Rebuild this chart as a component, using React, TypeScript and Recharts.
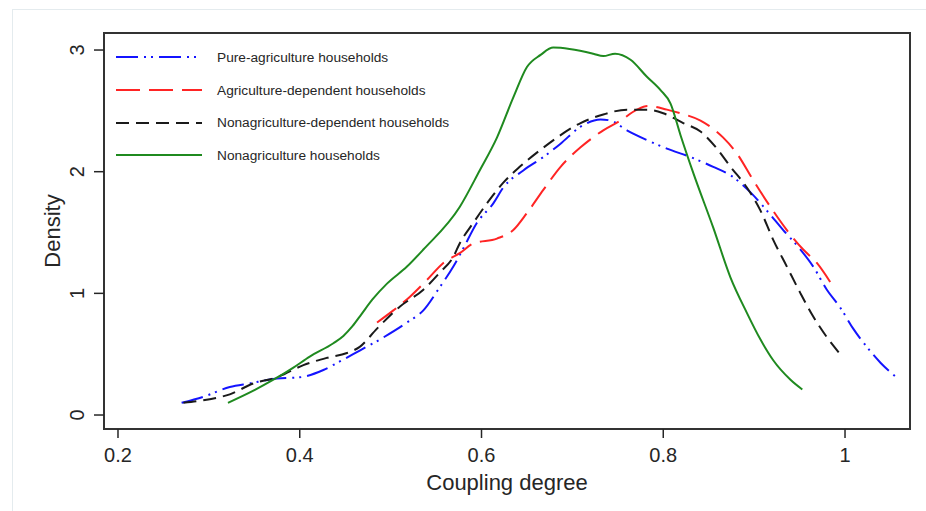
import React from 'react';
import { LineChart, Line, XAxis, YAxis, ReferenceArea } from 'recharts';

// kernel density curves
const pureX = [0.27, 0.294, 0.323, 0.345, 0.375, 0.4, 0.426, 0.444, 0.466, 0.488, 0.518, 0.536, 0.554, 0.569, 0.58, 0.595, 0.613, 0.624, 0.646, 0.668, 0.687, 0.709, 0.731, 0.742, 0.76, 0.782, 0.804, 0.83, 0.855, 0.874, 0.896, 0.914, 0.932, 0.951, 0.965, 0.98, 0.995, 1.009, 1.024, 1.039, 1.055];
const pureY = [0.1, 0.15, 0.23, 0.26, 0.3, 0.31, 0.37, 0.44, 0.53, 0.62, 0.76, 0.86, 1.05, 1.22, 1.37, 1.58, 1.74, 1.87, 2.01, 2.12, 2.23, 2.37, 2.43, 2.42, 2.34, 2.26, 2.19, 2.12, 2.04, 1.97, 1.83, 1.68, 1.52, 1.36, 1.22, 1.03, 0.88, 0.71, 0.56, 0.43, 0.32];

const agriDepX = [0.485, 0.503, 0.521, 0.54, 0.558, 0.576, 0.591, 0.617, 0.635, 0.65, 0.668, 0.687, 0.709, 0.734, 0.753, 0.771, 0.783, 0.804, 0.819, 0.841, 0.866, 0.881, 0.899, 0.918, 0.936, 0.954, 0.969, 0.984];
const agriDepY = [0.76, 0.86, 0.97, 1.11, 1.25, 1.33, 1.41, 1.45, 1.52, 1.66, 1.85, 2.04, 2.2, 2.34, 2.42, 2.51, 2.54, 2.51, 2.48, 2.42, 2.28, 2.15, 1.93, 1.71, 1.52, 1.36, 1.25, 1.09];

const nonAgriDepX = [0.272, 0.301, 0.323, 0.349, 0.375, 0.404, 0.43, 0.452, 0.466, 0.485, 0.51, 0.536, 0.554, 0.569, 0.576, 0.591, 0.609, 0.624, 0.642, 0.665, 0.683, 0.709, 0.734, 0.76, 0.782, 0.8, 0.822, 0.841, 0.859, 0.874, 0.892, 0.907, 0.921, 0.936, 0.951, 0.965, 0.98, 0.997];
const nonAgriDepY = [0.1, 0.13, 0.17, 0.26, 0.31, 0.41, 0.47, 0.51, 0.56, 0.71, 0.89, 1.03, 1.17, 1.3, 1.41, 1.58, 1.77, 1.91, 2.04, 2.18, 2.28, 2.4, 2.47, 2.51, 2.51, 2.48, 2.4, 2.33, 2.19, 2.04, 1.87, 1.68, 1.44, 1.22, 1.0, 0.81, 0.64, 0.48];

const nonAgriX = [0.321, 0.349, 0.371, 0.393, 0.411, 0.437, 0.448, 0.458, 0.468, 0.48, 0.496, 0.518, 0.536, 0.576, 0.598, 0.617, 0.635, 0.65, 0.665, 0.679, 0.723, 0.734, 0.747, 0.764, 0.782, 0.797, 0.808, 0.819, 0.833, 0.855, 0.874, 0.892, 0.907, 0.921, 0.94, 0.953];
const nonAgriY = [0.1, 0.2, 0.29, 0.39, 0.48, 0.59, 0.65, 0.73, 0.83, 0.95, 1.08, 1.22, 1.36, 1.71, 2.01, 2.28, 2.61, 2.86, 2.96, 3.02, 2.97, 2.95, 2.97, 2.92, 2.78, 2.67, 2.56, 2.3, 1.99, 1.54, 1.13, 0.84, 0.62, 0.45, 0.29, 0.21];

const xTicks = [0.2, 0.4, 0.6, 0.8, 1];
const yTicks = [0, 1, 2, 3];

const toPoints = (xs: number[], ys: number[]) => xs.map((x, i) => ({ x, y: ys[i] }));

const series = [
  { name: 'Pure-agriculture households', data: toPoints(pureX, pureY), color: '#1414ff', dash: '22 6 2 5 2 6' },
  { name: 'Agriculture-dependent households', data: toPoints(agriDepX, agriDepY), color: '#ff2424', dash: '24 9' },
  { name: 'Nonagriculture-dependent households', data: toPoints(nonAgriDepX, nonAgriDepY), color: '#1a1a1a', dash: '13 7' },
  { name: 'Nonagriculture households', data: toPoints(nonAgriX, nonAgriY), color: '#1f8a1f', dash: undefined },
];

const FONT = '"Liberation Sans", Arial, Helvetica, sans-serif';
const INK = '#262626';

function YTick({ x, y, payload }: any) {
  return (
    <text
      x={x - 8}
      y={y}
      transform={`rotate(-90, ${x - 8}, ${y})`}
      textAnchor="middle"
      fontSize={20}
      fontFamily={FONT}
      fill={INK}
    >
      {payload.value}
    </text>
  );
}

function Legend4() {
  return (
    <div style={{ position: 'absolute', left: 116, top: 41, fontFamily: FONT, fontSize: 13.7, color: INK }}>
      {series.map((s) => (
        <div key={s.name} style={{ display: 'flex', alignItems: 'center', height: 32.7 }}>
          <svg width={86} height={6}>
            <line x1={0} y1={3} x2={86} y2={3} stroke={s.color} strokeWidth={2.2} strokeDasharray={s.dash} />
          </svg>
          <span style={{ marginLeft: 15 }}>{s.name}</span>
        </div>
      ))}
    </div>
  );
}

export default function App() {
  return (
    <div style={{ position: 'absolute', left: 0, top: 0, width: 926, height: 511, background: '#fff', overflow: 'hidden' }}>
      <div
        style={{
          position: 'absolute',
          left: 12,
          top: 9,
          width: 940,
          height: 540,
          borderLeft: '1.5px solid #e4ebee',
          borderTop: '1.5px solid #e4ebee',
        }}
      />
      <LineChart width={926} height={511} margin={{ top: 33, right: 16, bottom: 0, left: 0 }} style={{ position: 'absolute', left: 0, top: 0 }}>
        <XAxis
          dataKey="x"
          type="number"
          domain={[0.1846, 1.0715]}
          ticks={xTicks}
          tickFormatter={(v) => String(v)}
          height={82}
          axisLine={false}
          tickLine={{ stroke: INK, strokeWidth: 1.5 }}
          tickSize={9}
          tick={{ fontSize: 20, fontFamily: FONT, fill: INK, dy: 8 }}
          allowDataOverflow
          label={() => (
            <text x={507} y={490} textAnchor="middle" fontSize={22} fontFamily={FONT} fill={INK}>
              Coupling degree
            </text>
          )}
        />
        <YAxis
          type="number"
          domain={[-0.115, 3.14]}
          ticks={yTicks}
          width={104}
          axisLine={false}
          tickLine={{ stroke: INK, strokeWidth: 1.5 }}
          tickSize={10}
          tick={<YTick />}
          allowDataOverflow
          label={() => (
            <text x={60} y={231} transform="rotate(-90, 60, 231)" textAnchor="middle" fontSize={22} fontFamily={FONT} fill={INK}>
              Density
            </text>
          )}
        />
        <ReferenceArea
          x1={0.1846}
          x2={1.0715}
          y1={-0.115}
          y2={3.14}
          fill="none"
          stroke="#333"
          strokeWidth={2}
          ifOverflow="visible"
        />
        {series.map((s) => (
          <Line
            key={s.name}
            data={s.data}
            dataKey="y"
            type="monotone"
            stroke={s.color}
            strokeWidth={2}
            strokeDasharray={s.dash}
            dot={false}
            activeDot={false}
            isAnimationActive={false}
            name={s.name}
          />
        ))}
      </LineChart>
      <Legend4 />
    </div>
  );
}
